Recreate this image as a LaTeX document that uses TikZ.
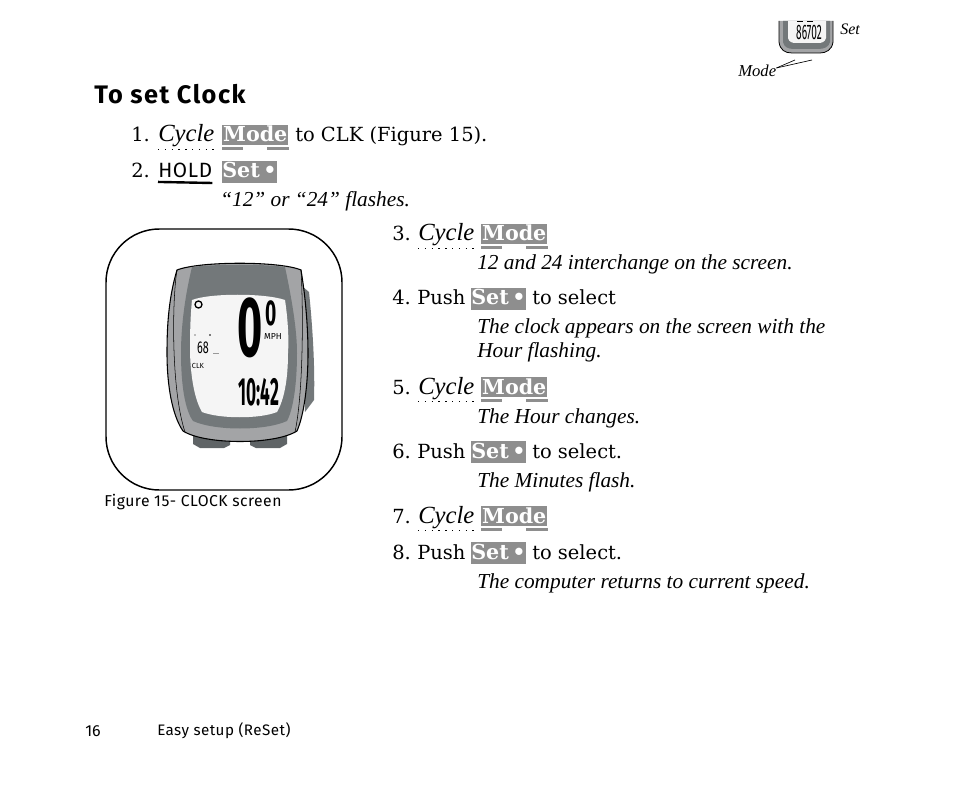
\documentclass[tikz,border=0pt]{standalone}
\usepackage{fontspec}
\setsansfont{Fira Sans}
\setmainfont{DejaVu Serif}
\newfontfamily\notefont{Liberation Serif}
\newfontfamily\spacedfont[LetterSpace=3]{Fira Sans}
\newfontfamily\titlefont[LetterSpace=6]{Fira Sans}
\definecolor{keygray}{HTML}{8E8E8E}
\definecolor{bodygray}{HTML}{A3A4A6}
\definecolor{ringgray}{HTML}{73787A}
\definecolor{footgray}{HTML}{5F6466}
\tikzset{
	steptext/.style={anchor=base west,inner sep=0pt,font=\fontsize{14.6}{17}\selectfont},
	cycletext/.style={anchor=base west,inner sep=0pt,font=\notefont\itshape\fontsize{18.5}{20}\selectfont,text depth=3pt},
	notetext/.style={anchor=base west,inner sep=0pt,align=left,font=\notefont\itshape\fontsize{16}{18}\selectfont},
	sanstext/.style={anchor=base west,inner sep=0pt,font=\spacedfont\fontsize{11.4}{13}\selectfont},
	modekey/.style={anchor=base west,inner sep=0pt,fill=keygray,text=white,minimum width=49.5pt,
		text height=12.5pt,text depth=2.5pt,font=\bfseries\fontsize{15.5}{18}\selectfont},
	setkey/.style={anchor=base west,inner sep=0pt,fill=keygray,text=white,minimum width=40.5pt,
		text height=13pt,text depth=3.5pt,font=\bfseries\fontsize{15.5}{18}\selectfont},
	keybar/.style={draw=keygray,line width=2pt},
	cyclebar/.style={line width=1.1pt,dash pattern=on 1.1pt off 4pt},
	lcd/.style={inner sep=0pt,text=black,font=\sffamily\bfseries}
}
\begin{document}
\begin{tikzpicture}[x=.75pt,y=-.75pt]
	\useasboundingbox (0,0) rectangle (954,788);

	\node[anchor=base west,inner sep=0pt,font=\titlefont\bfseries\fontsize{19}{22}\selectfont] (title) at (94,104) {To set Clock};

	\node[steptext] (numA) at (131,142) {1.};
	\node[cycletext] (cycA) at (158,142) {Cycle};
	\node[modekey] (modeA) at (222,142) {Mode};
	\node[steptext] (clkA) at (295,142) {to CLK (Figure 15).};
	\node[steptext] (numB) at (131,178) {2.};
	\node[anchor=base west,inner sep=0pt,text depth=2pt,font=\spacedfont\fontsize{15.5}{17}\selectfont] (hold) at (158,178) {HOLD};
	\node[setkey] (setB) at (222,178) {Set\,•};
	\node[notetext] (noteB) at (220,207) {“12” or “24” flashes.};

	\node[steptext] (numC) at (392,241) {3.};
	\node[cycletext] (cycC) at (418,241) {Cycle};
	\node[modekey] (modeC) at (481,241) {Mode};
	\node[notetext] (noteC) at (477,270) {12 and 24 interchange on the screen.};

	\node[steptext] (numD) at (392,305) {4.};
	\node[steptext] (pushD) at (417,305) {Push};
	\node[setkey] (setD) at (471,305) {Set\,•};
	\node[steptext] (selD) at (532,305) {to select};
	\node[notetext] (noteDa) at (477,334) {The clock appears on the screen with the};
	\node[notetext] (noteDb) at (477,358) {Hour flashing.};

	\node[steptext] (numE) at (392,394) {5.};
	\node[cycletext] (cycE) at (418,394) {Cycle};
	\node[modekey] (modeE) at (481,394) {Mode};
	\node[notetext] (noteE) at (477,423) {The Hour changes.};

	\node[steptext] (numF) at (392,458) {6.};
	\node[steptext] (pushF) at (417,458) {Push};
	\node[setkey] (setF) at (471,458) {Set\,•};
	\node[steptext] (selF) at (532,458) {to select.};
	\node[notetext] (noteF) at (477,487) {The Minutes flash.};

	\node[steptext] (numG) at (392,523) {7.};
	\node[cycletext] (cycG) at (418,523) {Cycle};
	\node[modekey] (modeG) at (481,523) {Mode};

	\node[steptext] (numH) at (392,559) {8.};
	\node[steptext] (pushH) at (417,559) {Push};
	\node[setkey] (setH) at (471,559) {Set\,•};
	\node[steptext] (selH) at (532,559) {to select.};
	\node[notetext] (noteH) at (477,588) {The computer returns to current speed.};

	\foreach \cyc in {cycA,cycC,cycE,cycG}
		\draw[cyclebar] (\cyc.south west) ++(0,3) -- ++(58,0);
	\foreach \mode in {modeA,modeC,modeE,modeG} {
		\draw[keybar] (\mode.south west) ++(0,3) -- ++(21,0);
		\draw[keybar] (\mode.south east) ++(0,3) -- ++(-22,0);
	}
	\draw[line width=1.8pt] (hold.south west) ++(0,1) -- (hold.south east |- 0,183);

	\draw[line width=1.1pt,rounded corners=40] (106,229) rectangle (342,490);
	\fill[footgray] (193,434) -- (230,438) -- (230,445) -- (224,448) -- (200,448) -- (193,444) -- cycle;
	\fill[footgray] (250,438) -- (287,434) -- (287,444) -- (280,448) -- (256,448) -- (250,445) -- cycle;
	\fill[ringgray] (303,287) -- (309,292) .. controls (313,330) and (315,370) .. (314,400) -- (305,412) -- cycle;
	\filldraw[fill=bodygray,draw=black,line width=.8pt] (177,270) .. controls (200,261) and (280,261) .. (301,270)
		.. controls (306,300) and (308,330) .. (308,353)
		.. controls (308,385) and (304,415) .. (297,431)
		.. controls (275,445) and (205,445) .. (183,431)
		.. controls (172,415) and (167,385) .. (167,353)
		.. controls (167,330) and (168,300) .. (177,270) -- cycle;
	\draw[line width=.4pt] (177,270) .. controls (172,300) and (171,390) .. (185,432);
	\draw[line width=.4pt] (301,270) .. controls (303,300) and (304,390) .. (295,432);
	\fill[ringgray] (192,267) .. controls (215,264) and (265,264) .. (285,267)
		.. controls (292,300) and (297,330) .. (297,353)
		.. controls (297,385) and (293,410) .. (287,421)
		.. controls (265,431) and (215,431) .. (193,421)
		.. controls (185,410) and (181,385) .. (181,353)
		.. controls (181,330) and (184,300) .. (192,267) -- cycle;
	\fill[white!96!black] (192,300) .. controls (210,293) and (265,293) .. (285,300)
		.. controls (288,320) and (289,340) .. (288,353)
		.. controls (288,380) and (284,400) .. (277,412)
		.. controls (260,419) and (220,419) .. (202,412)
		.. controls (195,400) and (191,380) .. (190,353)
		.. controls (190,340) and (190,320) .. (192,300) -- cycle;
	\draw[line width=1pt] (198.5,304.5) circle (3.5);
	\node[lcd,xscale=.85,yscale=1.68,font=\sffamily\bfseries\fontsize{38}{40}\selectfont] (bigzero) at (250,327.5) {0};
	\node[lcd,xscale=.72,yscale=1.35,font=\sffamily\bfseries\fontsize{20}{22}\selectfont] (smallzero) at (271.5,313) {0};
	\node[lcd,font=\sffamily\fontsize{6.5}{8}\selectfont] (mph) at (273,336.5) {MPH};
	\node[lcd,xscale=.85,yscale=1.35,font=\sffamily\fontsize{9.5}{11}\selectfont] (temp) at (203,348) {68};
	\fill (195,335) circle (.6);
	\fill (210,335) circle (.8);
	\draw[black!40,line width=.4pt] (213,353) -- (219,353);
	\node[lcd,font=\sffamily\fontsize{5.5}{7}\selectfont] (clk) at (198,366) {CLK};
	\node[lcd,xscale=.68,yscale=1.55,font=\sffamily\bfseries\fontsize{19}{21}\selectfont] (clock) at (259,392.5) {10:42};
	\node[sanstext,font=\spacedfont\fontsize{11.8}{13}\selectfont] (caption) at (104,506) {Figure 15- CLOCK screen};

	\fill[bodygray] (779,21) -- (833,21) -- (833,42) .. controls (832,50) and (826,53) .. (820,53) -- (792,53)
		.. controls (785,53) and (780,50) .. (779,42) -- cycle;
	\draw[line width=.6pt] (779,21) -- (779,42) .. controls (780,50) and (785,53) .. (792,53) -- (820,53)
		.. controls (826,53) and (832,50) .. (833,42) -- (833,21);
	\fill[ringgray] (783,21) -- (830,21) -- (830,42) .. controls (829,47) and (824,49) .. (818,49) -- (794,49)
		.. controls (788,49) and (784,47) .. (783,42) -- cycle;
	\fill[white!96!black] (788,21) -- (826,21) -- (826,38) .. controls (825,42) and (822,43) .. (818,43) -- (796,43)
		.. controls (792,43) and (789,42) .. (788,38) -- cycle;
	\node[lcd,xscale=.72,yscale=1.5,font=\sffamily\fontsize{10.5}{12}\selectfont] (odo) at (809,32.5) {86702};
	\draw[line width=.7pt] (797,21.5) -- (803,21.5);
	\draw[line width=.7pt] (807,21.5) -- (813,21.5);
	\node[anchor=base west,inner sep=0pt,font=\notefont\itshape\fontsize{12}{13}\selectfont] (setlabel) at (840,35) {Set};
	\node[anchor=base west,inner sep=0pt,font=\notefont\itshape\fontsize{12.5}{13}\selectfont] (modelabel) at (738,77) {Mode};
	\coordinate (modeleft) at (795,60);
	\coordinate (moderight) at (812,60);
	\draw[line width=.5pt] ([yshift=2.5pt]modelabel.east) -- (modeleft);
	\draw[line width=.5pt] ([yshift=2.5pt]modelabel.east) -- (moderight);

	\node[steptext,font=\sffamily\fontsize{12}{14}\selectfont] (pagenum) at (85,736) {16};
	\node[sanstext] (footer) at (157,735) {Easy setup (ReSet)};
\end{tikzpicture}
\end{document}
